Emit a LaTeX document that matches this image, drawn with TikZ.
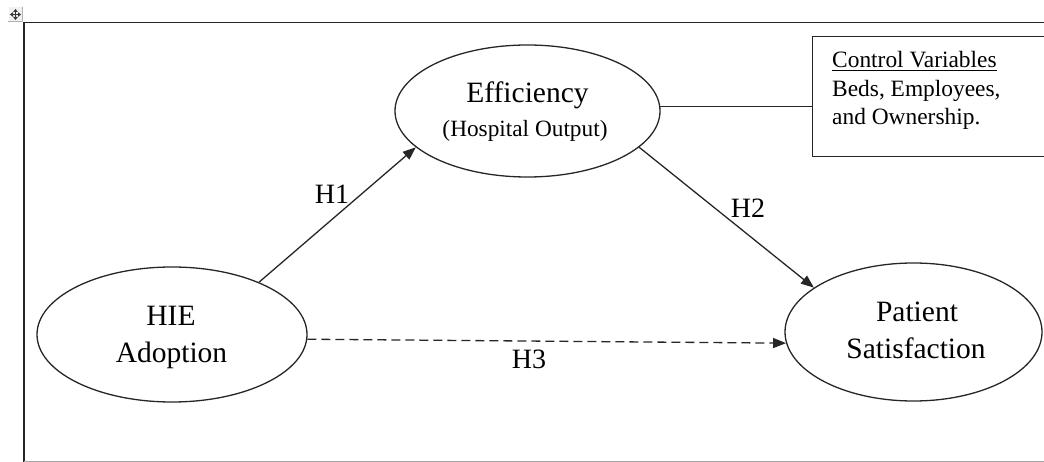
\documentclass[tikz,border=0pt]{standalone}
\usepackage{fontspec}
\setmainfont{Liberation Serif}
\usetikzlibrary{arrows.meta,shapes.geometric}
\tikzset{
  ell/.style={draw=black!85, line width=1.3pt, ellipse, inner sep=0pt},
  big/.style={font=\fontsize{29.5}{34}\selectfont, inner sep=0pt, anchor=base, text=black},
  small/.style={font=\fontsize{23.3}{28}\selectfont, inner sep=0pt, anchor=base, text=black},
  hyp/.style={font=\fontsize{28}{32}\selectfont, inner sep=0pt, anchor=base, text=black},
  ctl/.style={font=\fontsize{23.4}{28}\selectfont, inner sep=0pt, anchor=base west, text=black},
  arr/.style={draw=black!85, line width=1.3pt, -{Triangle[length=13pt,width=10pt]}},
  frame/.style={draw=black!85, line width=1.6pt},
  handtip/.style={black!80, line width=1.2pt, {Triangle[length=3pt,width=4.5pt]}-{Triangle[length=3pt,width=4.5pt]}},
}
\begin{document}
\begin{tikzpicture}[x=1pt,y=-1pt]
\useasboundingbox (0,0) rectangle (1044,462);
% frame
\draw[frame] (24,462) -- (24,22.5) -- (1044,22.5);
\draw[draw=black!35, line width=1pt] (24,461) -- (1044,461);
% move handle
\node[fill=black!6, minimum size=14pt, inner sep=0pt] (handle) at (15.5,14.5) {};
\draw[black!30, line width=0.8pt] (handle.north east) -- (handle.south east) -- (handle.south west);
\draw[handtip] (handle.center) ++(0,-5.5) -- ++(0,11);
\draw[handtip] (handle.center) ++(-5.5,0) -- ++(11,0);
% ellipses
\node[ell, minimum width=270pt, minimum height=135pt] (hie) at (172,334.5) {};
\node[ell, minimum width=265pt, minimum height=132pt] (eff) at (527.5,111) {};
\node[ell, minimum width=257pt, minimum height=138pt] (pat) at (913.5,332) {};
% control box
\node[draw=black!85, line width=1.3pt, minimum width=260pt, minimum height=120pt, anchor=north west, inner sep=0pt] (ctrl) at (812,36) {};
% texts
\node[big] (hieA) at (171,325) {HIE};
\node[big] (hieB) at (171.5,362) {Adoption};
\node[big] (effA) at (527.5,103) {Efficiency};
\node[small] (effB) at (525,137) {(Hospital Output)};
\node[big] (patA) at (917,322) {Patient};
\node[big] (patB) at (916,358) {Satisfaction};
\node[ctl] (ctrlA) at (832,68) {\underline{Control Variables}};
\node[ctl] (ctrlB) at (832,96.5) {Beds, Employees,};
\node[ctl] (ctrlC) at (832,124.5) {and Ownership.};
% connectors
\draw[arr] (hie.31.8) -- (eff.198.2);
\draw[arr] (eff.342) -- (pat.156.4);
\draw[arr, dash pattern=on 9pt off 5pt] (hie.358) -- (pat.185.9);
\draw[draw=black!85, line width=1.3pt] (eff.2) -- (eff.2 -| ctrl.west);
% labels
\node[hyp] (h1) at (332,204) {H1};
\node[hyp] (h2) at (748,218) {H2};
\node[hyp] (h3) at (529,368) {H3};
\end{tikzpicture}
\end{document}
